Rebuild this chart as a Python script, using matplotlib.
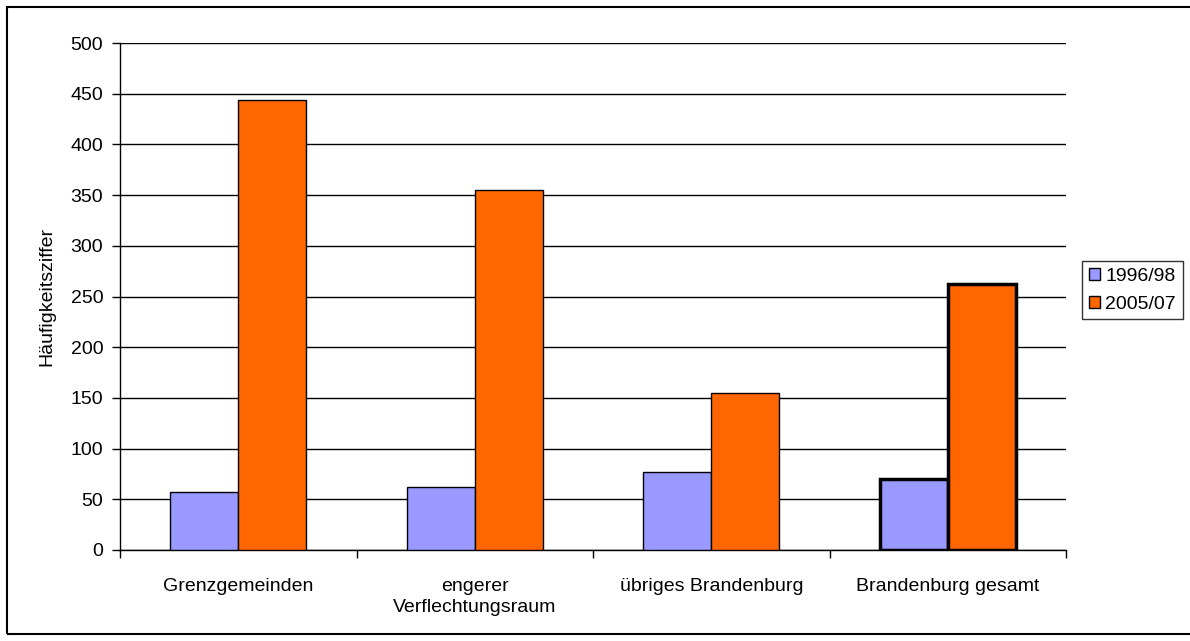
import matplotlib.pyplot as plt
import numpy as np
from matplotlib.patches import Rectangle

plt.rcParams['font.family'] = ['Liberation Sans', 'DejaVu Sans']

categories = ["Grenzgemeinden", "engerer\nVerflechtungsraum", "übriges Brandenburg", "Brandenburg gesamt"]
series_names = ["1996/98", "2005/07"]
v_1996 = [57, 62, 77, 70]
v_2005 = [444, 355, 155, 262]

fig = plt.figure(figsize=(11.9, 6.41), dpi=100)
ax = fig.add_axes([120/1190, 1-550/641, 946/1190, 507/641])

x = np.arange(len(categories))
w = 0.288
lw = [1, 1, 1, 2.5]
ax.bar(x - w/2, v_1996, w, color='#9999ff', edgecolor='black', linewidth=lw, label=series_names[0], zorder=3)
ax.bar(x + w/2, v_2005, w, color='#ff6600', edgecolor='black', linewidth=lw, label=series_names[1], zorder=3)

fs = 14
ax.set_xlim(-0.5, 3.5)
ax.set_ylim(0, 500)
ax.set_yticks(np.arange(0, 501, 50))
ax.set_xticks(np.arange(-0.5, 3.6, 1))
ax.set_xticklabels([])
ax.set_xticks(x, minor=True)
ax.set_xticklabels(categories, minor=True, fontsize=fs, linespacing=1.35)
ax.tick_params(axis='x', which='minor', length=0, pad=20)
ax.tick_params(axis='x', which='major', length=6, direction='out', width=1)
ax.tick_params(axis='y', length=6, direction='out', labelsize=fs, width=1, pad=6)
ax.yaxis.grid(True, color='black', linewidth=1, zorder=0)
for s in ['top', 'right']:
    ax.spines[s].set_visible(False)
ax.spines['left'].set_linewidth(1)
ax.spines['bottom'].set_linewidth(1)
ax.set_ylabel("Häufigkeitsziffer", fontsize=fs, labelpad=11)

leg = fig.legend(loc='upper left', bbox_to_anchor=(1082/1190, 1-261/641), frameon=True,
                 fancybox=False, edgecolor='black', fontsize=fs, handlelength=0.6, handleheight=0.6,
                 handletextpad=0.25, borderpad=0.35, labelspacing=0.55, borderaxespad=0)
leg.get_frame().set_linewidth(1)
for h in leg.legend_handles:
    h.set_linewidth(1)

fig.patches.append(Rectangle((7/1190, 1-634/641), 1190/1190, 627/641, transform=fig.transFigure,
                             fill=False, edgecolor='black', linewidth=1.5))

fig.savefig("out.png", dpi=100)
